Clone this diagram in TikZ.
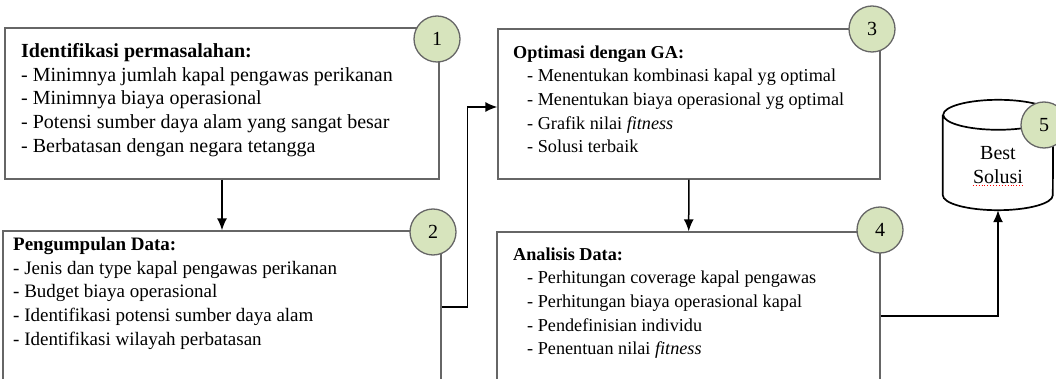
\documentclass[tikz,border=0pt]{standalone}
\usepackage{fontspec}
\setmainfont{Liberation Serif}
\usetikzlibrary{shapes.geometric, arrows.meta}
\definecolor{framegray}{HTML}{666666}
\definecolor{badgegreen}{HTML}{D7E4BD}
\tikzstyle{stage} = [rectangle, draw=framegray, line width=1.3pt, inner sep=0pt]
\tikzstyle{stagetext} = [anchor=north west, align=left, inner sep=0pt, font=\fontsize{20}{23.8}\selectfont]
\tikzstyle{stagetextsmall} = [stagetext, font=\fontsize{18.2}{23.6}\selectfont]
\tikzstyle{badge} = [circle, draw=framegray, fill=badgegreen, line width=1.3pt, minimum size=46pt, inner sep=0pt, font=\fontsize{20}{23.8}\selectfont]
\tikzstyle{arrow} = [line width=1.5pt, -{Latex[length=12pt,width=10pt]}]

\begin{document}
\begin{tikzpicture}[x=1pt, y=-1pt]
\clip (0,0) rectangle (1056,379);

\node (ident)		[stage, minimum width=434pt, minimum height=151pt]	at (222,103.5)	{};
\node (kumpul)		[stage, minimum width=438pt, minimum height=152pt]	at (222,307)	{};
\node (optim)		[stage, minimum width=382pt, minimum height=150pt]	at (689,104)	{};
\node (analisis)	[stage, minimum width=383pt, minimum height=168pt]	at (688.5,316)	{};
\node (best)		[minimum width=110pt, minimum height=110pt]			at (998,155)	{};

\node (identtext)	[stagetext] at (21,43)	{\textbf{Identifikasi permasalahan:}\\- Minimnya jumlah kapal pengawas perikanan\\- Minimnya biaya operasional\\- Potensi sumber daya alam yang sangat besar\\- Berbatasan dengan negara tetangga};
\node (kumpultext)	[stagetext, font=\fontsize{19}{23.75}\selectfont] at (13,237)	{\textbf{Pengumpulan Data:}\\- Jenis dan type kapal pengawas perikanan\\- Budget biaya operasional\\- Identifikasi potensi sumber daya alam\\- Identifikasi wilayah perbatasan};
\node (optimtext)	[stagetextsmall] at (513,45.5)	{\textbf{Optimasi dengan GA:}\\\hspace*{14pt}- Menentukan kombinasi kapal yg optimal\\\hspace*{14pt}- Menentukan biaya operasional yg optimal\\\hspace*{14pt}- Grafik nilai \textit{fitness}\\\hspace*{14pt}- Solusi terbaik};
\node (analisistext) [stagetextsmall] at (513,247.5) {\textbf{Analisis Data:}\\\hspace*{14pt}- Perhitungan coverage kapal pengawas\\\hspace*{14pt}- Perhitungan biaya operasional kapal\\\hspace*{14pt}- Pendefinisian individu\\\hspace*{14pt}- Penentuan nilai \textit{fitness}};

% database
\draw [line width=1.7pt] ([yshift=-15pt]best.north west) -- ([yshift=15pt]best.south west)
	arc [start angle=180, end angle=360, x radius=55pt, y radius=15pt] -- ([yshift=-15pt]best.north east)
	arc [start angle=0, end angle=360, x radius=55pt, y radius=15pt];
\node (besttext) [align=center, inner sep=0pt, font=\fontsize{20}{24}\selectfont] at (998,165) {Best\\Solusi};
\draw [red, dotted, line width=0.9pt] ([yshift=-2pt]besttext.south west) -- ([yshift=-2pt]besttext.south east);

\node (n1) [badge] at (437,39)	{1};
\node (n2) [badge] at (433,232)	{2};
\node (n3) [badge] at (872,29)	{3};
\node (n4) [badge] at (880,230)	{4};
\node (n5) [badge] at (1044,125)	{5};

\draw [arrow] (ident) -- (kumpul);
\draw [arrow] (kumpul.east) -- ++(26,0) |- ([yshift=-3pt]optim.west);
\draw [arrow] (optim) -- (analisis);
\draw [arrow] (analisis.east) -| (best.south);

\end{tikzpicture}
\end{document}
